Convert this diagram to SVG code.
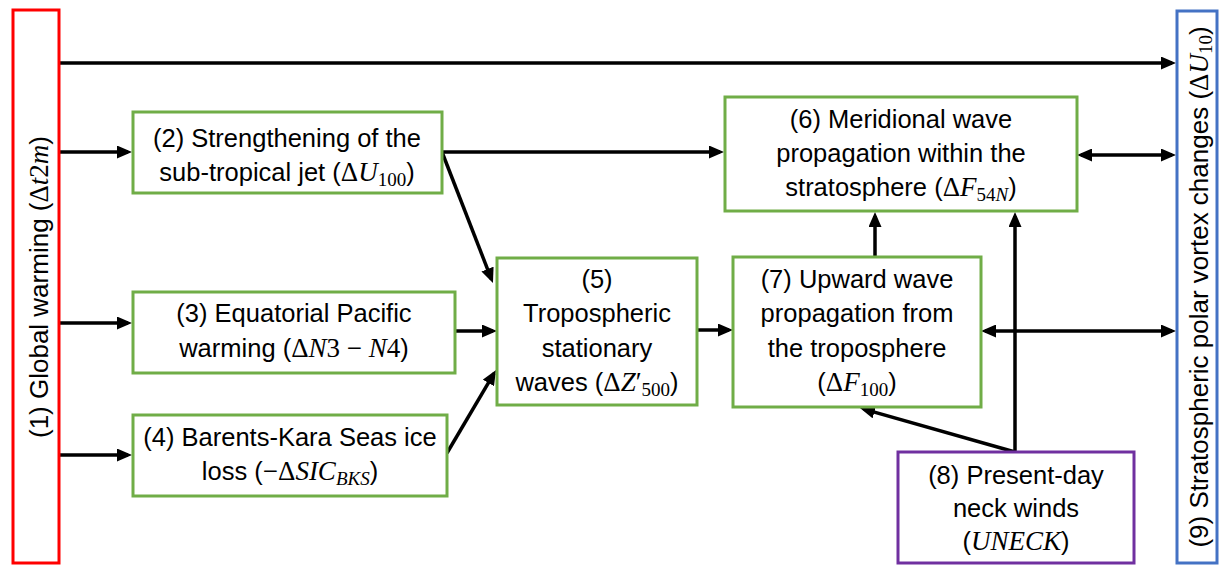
<svg xmlns="http://www.w3.org/2000/svg" width="1220" height="566" viewBox="0 0 1220 566">
<style>
.box{fill:#fff;stroke:#70AD47;stroke-width:3}
.t{font-family:"Liberation Sans",Arial,sans-serif;font-size:25.5px;fill:#000;text-anchor:middle}
.r{font-size:26px}
.m{font-family:"Liberation Serif","Times New Roman",serif;font-size:27px}
.i{font-style:italic}
.s{font-family:"Liberation Serif","Times New Roman",serif;font-size:19px}
.c{fill:none;stroke:#000;stroke-width:3.5}
</style>
<defs>
<marker id="ah" markerWidth="15" markerHeight="13" refX="11" refY="6.5" orient="auto-start-reverse" markerUnits="userSpaceOnUse">
<path d="M0,0 L15,6.5 L0,13 z" fill="#000"/>
</marker>
</defs>
<rect width="1220" height="566" fill="#fff"/>

<g id="connectors">
<path class="c" d="M60,63 H1172" marker-end="url(#ah)"/>
<path class="c" d="M60,152 H128" marker-end="url(#ah)"/>
<path class="c" d="M60,323 H128" marker-end="url(#ah)"/>
<path class="c" d="M60,455 H128" marker-end="url(#ah)"/>
<path class="c" d="M442,152 H720" marker-end="url(#ah)"/>
<path class="c" d="M442,152 L491.5,279.3" marker-end="url(#ah)"/>
<path class="c" d="M455,331 H493" marker-end="url(#ah)"/>
<path class="c" d="M447,453 L494,373.4" marker-end="url(#ah)"/>
<path class="c" d="M697,330 H729" marker-end="url(#ah)"/>
<path class="c" d="M875,257 V216" marker-end="url(#ah)"/>
<path class="c" d="M1015,452 V216" marker-end="url(#ah)"/>
<path class="c" d="M1015,452 L863.8,409.1" marker-end="url(#ah)"/>
<path class="c" d="M1081,155 H1172" marker-start="url(#ah)" marker-end="url(#ah)"/>
<path class="c" d="M985,331 H1172" marker-start="url(#ah)" marker-end="url(#ah)"/>
</g>

<g id="n1">
<rect x="13" y="10" width="46" height="553" fill="#fff" stroke="#FF0000" stroke-width="3"/>
<text class="t r" transform="translate(48,287) rotate(-90)">(1) Global warming (<tspan class="m">Δ<tspan class="i">t</tspan>2<tspan class="i">m</tspan></tspan>)</text>
</g>

<g id="n2">
<rect class="box" x="133" y="112" width="309" height="81"/>
<text class="t" x="287" y="147">(2) Strengthening of the</text>
<text class="t" x="287" y="181">sub-tropical jet (<tspan class="m">Δ<tspan class="i">U</tspan></tspan><tspan class="s" dy="5">100</tspan><tspan dy="-5">)</tspan></text>
</g>

<g id="n3">
<rect class="box" x="133" y="292" width="322" height="81"/>
<text class="t" x="294" y="322">(3) Equatorial Pacific</text>
<text class="t" x="294" y="357">warming (<tspan class="m">Δ<tspan class="i">N</tspan>3 − <tspan class="i">N</tspan>4</tspan>)</text>
</g>

<g id="n4">
<rect class="box" x="133" y="415" width="314" height="81"/>
<text class="t" x="290" y="446">(4) Barents-Kara Seas ice</text>
<text class="t" x="290" y="480">loss (<tspan class="m">−Δ<tspan class="i">SIC</tspan></tspan><tspan class="s i" dy="5">BKS</tspan><tspan dy="-5">)</tspan></text>
</g>

<g id="n5">
<rect class="box" x="497" y="258" width="200" height="147"/>
<text class="t" x="597" y="288">(5)</text>
<text class="t" x="597" y="322">Tropospheric</text>
<text class="t" x="597" y="357">stationary</text>
<text class="t" x="597" y="391">waves (<tspan class="m">Δ<tspan class="i">Z</tspan>′</tspan><tspan class="s" dy="5">500</tspan><tspan dy="-5">)</tspan></text>
</g>

<g id="n6">
<rect class="box" x="725" y="97" width="352" height="114"/>
<text class="t" x="901" y="128">(6) Meridional wave</text>
<text class="t" x="901" y="162">propagation within the</text>
<text class="t" x="901" y="196">stratosphere (<tspan class="m">Δ<tspan class="i">F</tspan></tspan><tspan class="s" dy="5">54<tspan class="i">N</tspan></tspan><tspan dy="-5">)</tspan></text>
</g>

<g id="n7">
<rect class="box" x="733" y="257" width="248" height="150"/>
<text class="t" x="857" y="288">(7) Upward wave</text>
<text class="t" x="857" y="322">propagation from</text>
<text class="t" x="857" y="357">the troposphere</text>
<text class="t" x="857" y="391">(<tspan class="m">Δ<tspan class="i">F</tspan></tspan><tspan class="s" dy="5">100</tspan><tspan dy="-5">)</tspan></text>
</g>

<g id="n8">
<rect x="898" y="452" width="236" height="111" fill="#fff" stroke="#7030A0" stroke-width="3"/>
<text class="t" x="1016" y="484">(8) Present-day</text>
<text class="t" x="1016" y="517">neck winds</text>
<text class="t" x="1016" y="550">(<tspan class="m i">UNECK</tspan>)</text>
</g>

<g id="n9">
<rect x="1177" y="11" width="40" height="552" fill="#fff" stroke="#4472C4" stroke-width="3"/>
<text class="t r" transform="translate(1208,287) rotate(-90)">(9) Stratospheric polar vortex changes (<tspan class="m">Δ<tspan class="i">U</tspan></tspan><tspan class="s" dy="4">10</tspan><tspan dy="-4">)</tspan></text>
</g>
</svg>
